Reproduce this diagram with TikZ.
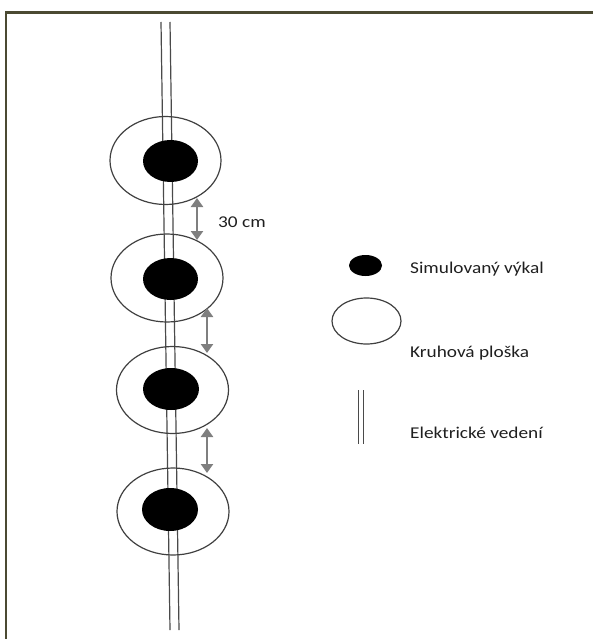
\documentclass[tikz,border=0pt]{standalone}
\usepackage{fontspec}
\setmainfont{Carlito}
\usetikzlibrary{shapes.geometric,arrows.meta}

\definecolor{framecol}{HTML}{4B4A32}
\definecolor{wirecol}{HTML}{4A4A4A}
\definecolor{ringcol}{HTML}{404040}
\definecolor{gapcol}{HTML}{7F7F7F}
\definecolor{textcol}{HTML}{1F1F1F}

\tikzset{
  wire/.style={draw=wirecol, line width=1.2pt},
  ring/.style={ellipse, draw=ringcol, line width=1.2pt, fill=none, inner sep=0pt},
  blob/.style={ellipse, fill=black, draw=none, inner sep=0pt},
  gap/.style={draw=gapcol, line width=2.8pt, {Triangle[length=9pt,width=12pt]}-{Triangle[length=9pt,width=12pt]}},
  label/.style={text=textcol, font=\fontsize{16.5}{18}\selectfont, inner sep=0pt, anchor=base west},
}
\newcommand{\wide}[1]{\scalebox{1.17}[1]{#1}}

\begin{document}
\begin{tikzpicture}[x=1pt, y=-1pt]
  \useasboundingbox (0,0) rectangle (593,639);

  % outer frame (top and left edges)
  \draw[framecol, line width=2.2pt] (6,639) -- (6,12.5) -- (593,12.5);

  % electric wire: two parallel conductors
  \coordinate (wa1) at (161,22);  \coordinate (wa2) at (170,630);
  \coordinate (wb1) at (170,22);  \coordinate (wb2) at (179,630);
  \draw[wire] (wa1) -- (wa2);
  \draw[wire] (wb1) -- (wb2);

  % circular plots
  \node[ring, minimum width=111pt, minimum height=88pt] (r1) at (165.5,160.5) {};
  \node[ring, minimum width=112pt, minimum height=88pt] (r2) at (167,278) {};
  \node[ring, minimum width=112pt, minimum height=87pt] (r3) at (172.5,390) {};
  \node[ring, minimum width=112pt, minimum height=87pt] (r4) at (173,511.5) {};

  % simulated faeces
  \node[blob, minimum width=55pt, minimum height=42pt] (b1) at (170.5,161) {};
  \node[blob, minimum width=55pt, minimum height=42pt] (b2) at (170.5,279) {};
  \node[blob, minimum width=56pt, minimum height=42pt] (b3) at (171,389) {};
  \node[blob, minimum width=56pt, minimum height=43pt] (b4) at (170,509.5) {};

  % spacing arrows between plots
  \coordinate (g1a) at (197,198);  \coordinate (g1b) at (197,240);
  \coordinate (g2a) at (207,308);  \coordinate (g2b) at (207,353);
  \coordinate (g3a) at (207,428);  \coordinate (g3b) at (207,473);
  \draw[gap] (g1a) -- (g1b);
  \draw[gap] (g2a) -- (g2b);
  \draw[gap] (g3a) -- (g3b);
  \node[label] (dist) at (218,227) {\wide{30 cm}};

  % legend
  \node[blob, minimum width=33pt, minimum height=21pt] (kb) at (365.5,265.5) {};
  \node[label] (kbt) at (410,273) {\wide{Simulovaný výkal}};

  \node[ring, minimum width=69pt, minimum height=46pt] (kr) at (366.5,321) {};
  \node[label] (krt) at (410,357.5) {\wide{Kruhová ploška}};

  \coordinate (kw1a) at (358,390); \coordinate (kw1b) at (358,444);
  \coordinate (kw2a) at (363.5,390); \coordinate (kw2b) at (363.5,444);
  \draw[wire, line width=1pt] (kw1a) -- (kw1b);
  \draw[wire, line width=1pt] (kw2a) -- (kw2b);
  \node[label] (kwt) at (410,438) {\wide{Elektrické vedení}};
\end{tikzpicture}
\end{document}
